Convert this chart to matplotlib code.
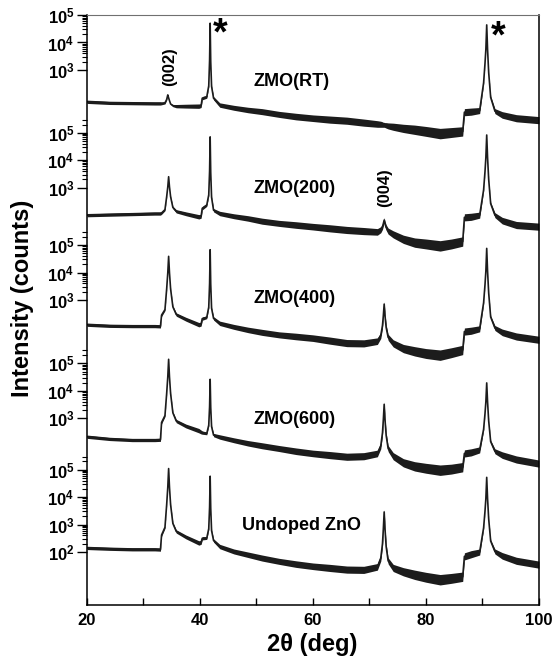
import numpy as np
import matplotlib
matplotlib.use("Agg")
import matplotlib.pyplot as plt
from matplotlib.ticker import FixedLocator, MultipleLocator

two_theta = [20, 24, 28, 32,
             33.0, 33.2, 33.8, 34.1, 34.3, 34.45, 34.6, 34.8, 35.2, 35.8,
             37.5, 39.8, 40.2, 40.4, 41.2,
             41.55, 41.7, 41.8, 41.9, 42.05, 42.4,
             43.5, 46, 48.5, 51, 54, 57, 60, 63, 66, 69,
             71.4, 72.0, 72.3, 72.45, 72.6, 72.75, 72.95, 73.3, 74.2,
             76, 78, 80, 82.5, 84.5, 86.5, 86.8,
             88, 89.5,
             90.2, 90.45, 90.6, 90.75, 90.9, 91.1, 91.45, 92.2,
             93.5, 96, 100]

# log10(counts) for each sample
log_rt = [1.84, 1.80, 1.79, 1.78,
          1.78, 1.78, 1.80, 1.92, 2.09, 1.98, 1.88, 1.76, 1.70, 1.68,
          1.68, 1.68, 1.70, 1.97, 2.02,
          2.42, 3.36, 4.70, 3.30, 2.40, 1.97,
          1.72, 1.62, 1.54, 1.48, 1.38, 1.30, 1.24, 1.19, 1.15, 1.08,
          1.03, 1.02, 1.01, 1.00, 1.00, 0.99, 0.98, 0.96, 0.93,
          0.87, 0.82, 0.76, 0.68, 0.72, 0.76, 1.46,
          1.48, 1.52,
          2.53, 3.25, 3.75, 4.64, 3.75, 2.90, 2.00, 1.50,
          1.36, 1.24, 1.17]

log_200 = [2.00, 2.02, 2.04, 2.06,
           2.06, 2.08, 2.20, 2.67, 3.03, 3.40, 3.03, 2.67, 2.28, 2.14,
           2.05, 1.94, 1.96, 2.25, 2.37,
           2.74, 3.61, 4.85, 3.55, 2.65, 2.18,
           2.06, 1.96, 1.88, 1.78, 1.70, 1.64, 1.58, 1.52, 1.46, 1.42,
           1.39, 1.47, 1.58, 1.69, 1.82, 1.69, 1.55, 1.42, 1.30,
           1.12, 1.00, 0.95, 0.88, 0.95, 1.04, 1.92,
           1.94, 2.00,
           2.92, 3.60, 4.10, 4.92, 4.10, 3.30, 2.42, 2.00,
           1.80, 1.64, 1.58]

log_400 = [2.10, 2.06, 2.05, 2.05,
           2.04, 2.45, 2.65, 3.40, 3.99, 4.59, 3.99, 3.40, 2.75, 2.47,
           2.30, 2.10, 2.12, 2.32, 2.37,
           2.74, 3.60, 4.83, 3.58, 2.70, 2.33,
           2.15, 2.02, 1.91, 1.82, 1.73, 1.67, 1.61, 1.52, 1.43, 1.42,
           1.50, 1.71, 2.07, 2.42, 2.85, 2.42, 2.00, 1.64, 1.42,
           1.23, 1.13, 1.05, 0.99, 1.08, 1.18, 1.85,
           1.88, 1.95,
           2.90, 3.57, 4.05, 4.88, 4.05, 3.25, 2.38, 1.98,
           1.82, 1.67, 1.55]

log_600 = [2.33, 2.25, 2.21, 2.21,
           2.22, 2.85, 3.10, 3.90, 4.51, 5.15, 4.51, 3.90, 3.20, 2.90,
           2.72, 2.55, 2.50, 2.48, 2.45,
           2.75, 3.43, 4.42, 3.40, 2.70, 2.39,
           2.32, 2.20, 2.09, 2.00, 1.90, 1.80, 1.72, 1.66, 1.60, 1.62,
           1.72, 2.00, 2.47, 2.94, 3.51, 2.94, 2.38, 1.90, 1.62,
           1.38, 1.25, 1.18, 1.11, 1.15, 1.22, 1.72,
           1.76, 1.85,
           2.60, 3.18, 3.60, 4.29, 3.60, 2.90, 2.15, 1.80,
           1.66, 1.50, 1.35]

log_undoped = [2.15, 2.12, 2.10, 2.10,
               2.09, 2.62, 2.90, 3.72, 4.36, 5.04, 4.36, 3.72, 3.04, 2.75,
               2.55, 2.33, 2.35, 2.50, 2.51,
               2.85, 3.64, 4.76, 3.60, 2.78, 2.42,
               2.20, 2.02, 1.90, 1.78, 1.66, 1.56, 1.48, 1.42, 1.36, 1.35,
               1.46, 1.78, 2.30, 2.83, 3.46, 2.83, 2.20, 1.68, 1.42,
               1.28, 1.17, 1.08, 0.99, 1.04, 1.10, 1.84,
               1.92, 2.00,
               2.88, 3.50, 3.95, 4.72, 3.95, 3.20, 2.40, 2.02,
               1.86, 1.68, 1.54]

# half width of the noise band (decades)
noise = [0.06, 0.06, 0.06, 0.06,
         0.06, 0.05, 0.04, 0.02, 0.0, 0.0, 0.0, 0.02, 0.04, 0.06,
         0.07, 0.08, 0.07, 0.06, 0.05,
         0.03, 0.0, 0.0, 0.0, 0.03, 0.06,
         0.08, 0.09, 0.10, 0.11, 0.11, 0.12, 0.12, 0.13, 0.13, 0.13,
         0.12, 0.11, 0.10, 0.09, 0.09, 0.09, 0.10, 0.11, 0.13,
         0.15, 0.17, 0.18, 0.19, 0.18, 0.17, 0.13,
         0.13, 0.11,
         0.04, 0.02, 0.0, 0.0, 0.0, 0.02, 0.05, 0.09,
         0.12, 0.13, 0.13]

samples = ["ZMO(RT)", "ZMO(200)", "ZMO(400)", "ZMO(600)", "Undoped ZnO"]
traces = [log_rt, log_200, log_400, log_600, log_undoped]
offsets = [16.56, 12.27, 8.18, 3.87, 0.0]   # vertical stacking (decades)

plt.rcParams['font.family'] = ['Liberation Sans', 'DejaVu Sans']
plt.rcParams['font.weight'] = 'bold'
plt.rcParams['mathtext.fontset'] = 'custom'
plt.rcParams['mathtext.rm'] = 'Liberation Sans:bold'
plt.rcParams['mathtext.bf'] = 'Liberation Sans:bold'
plt.rcParams['mathtext.default'] = 'bf'

fig = plt.figure(figsize=(5.52, 6.70), dpi=100)
ax = fig.add_axes([0.1576, 0.0970, 0.8188, 0.8806])

x = np.array(two_theta)
nz = np.array(noise)
ink = '#1c1c1c'
for y, off in zip(traces, offsets):
    y = np.array(y) + off
    ax.fill_between(x, y - nz, y + nz, color=ink, lw=0)
    ax.plot(x, y, color=ink, lw=1.2)

ax.set_xlim(20, 100)
ax.set_ylim(0.07, 21.56)

# x axis
ax.xaxis.set_major_locator(FixedLocator([20, 40, 60, 80, 100]))
ax.xaxis.set_minor_locator(MultipleLocator(10))
ax.tick_params(axis='x', which='both', direction='in', length=5, width=1,
               top=False, labelsize=12, pad=6)

# y axis: one set of log ticks per stacked trace
major_pos, major_lab, minor_pos = [], [], []
for i, off in enumerate(offsets):
    decades = [5, 4, 3] if i < 4 else [5, 4, 3, 2]
    for d in decades:
        major_pos.append(off + d)
        major_lab.append(r'$10^{%d}$' % d)
    lo = min(decades)
    for d in range(lo, 6):
        for k in range(2, 10):
            if d == 5 and (i == 0 or k > 3):
                continue
            minor_pos.append(off + d + np.log10(k))
ax.yaxis.set_major_locator(FixedLocator(major_pos))
ax.set_yticklabels(major_lab)
ax.yaxis.set_minor_locator(FixedLocator(minor_pos))
ax.tick_params(axis='y', which='major', direction='out', length=7, width=1,
               labelsize=12, pad=2, right=False)
ax.tick_params(axis='y', which='minor', direction='out', length=3.5, width=0.8,
               right=False)

for s in ['left', 'bottom', 'right']:
    ax.spines[s].set_linewidth(1.1)
ax.spines['top'].set_color('#707070')

# sample names
name_x = [49.4, 49.4, 49.4, 49.4, 47.5]
name_y = [19.13, 15.25, 11.25, 6.81, 2.98]
for name, nx_, ny_ in zip(samples, name_x, name_y):
    ax.text(nx_, ny_, name, fontsize=13, fontweight='bold', ha='left', va='center')

# reflections
ax.text(34.7, 19.68, '(002)', rotation=90, fontsize=12, fontweight='bold',
        ha='center', va='center')
ax.text(72.75, 15.27, '(004)', rotation=90, fontsize=12, fontweight='bold',
        ha='center', va='center')
ax.text(43.6, 20.85, '*', fontsize=27, fontweight='bold', ha='center', va='center')
ax.text(92.8, 20.75, '*', fontsize=27, fontweight='bold', ha='center', va='center')

fig.text(23 / 552, 1 - 298 / 670, 'Intensity (counts)', rotation=90,
         fontsize=17, fontweight='bold', ha='center', va='center')
fig.text(312 / 552, 1 - 645 / 670, '2θ (deg)', fontsize=17, fontweight='bold',
         ha='center', va='center')

fig.savefig('out.png', dpi=100)
